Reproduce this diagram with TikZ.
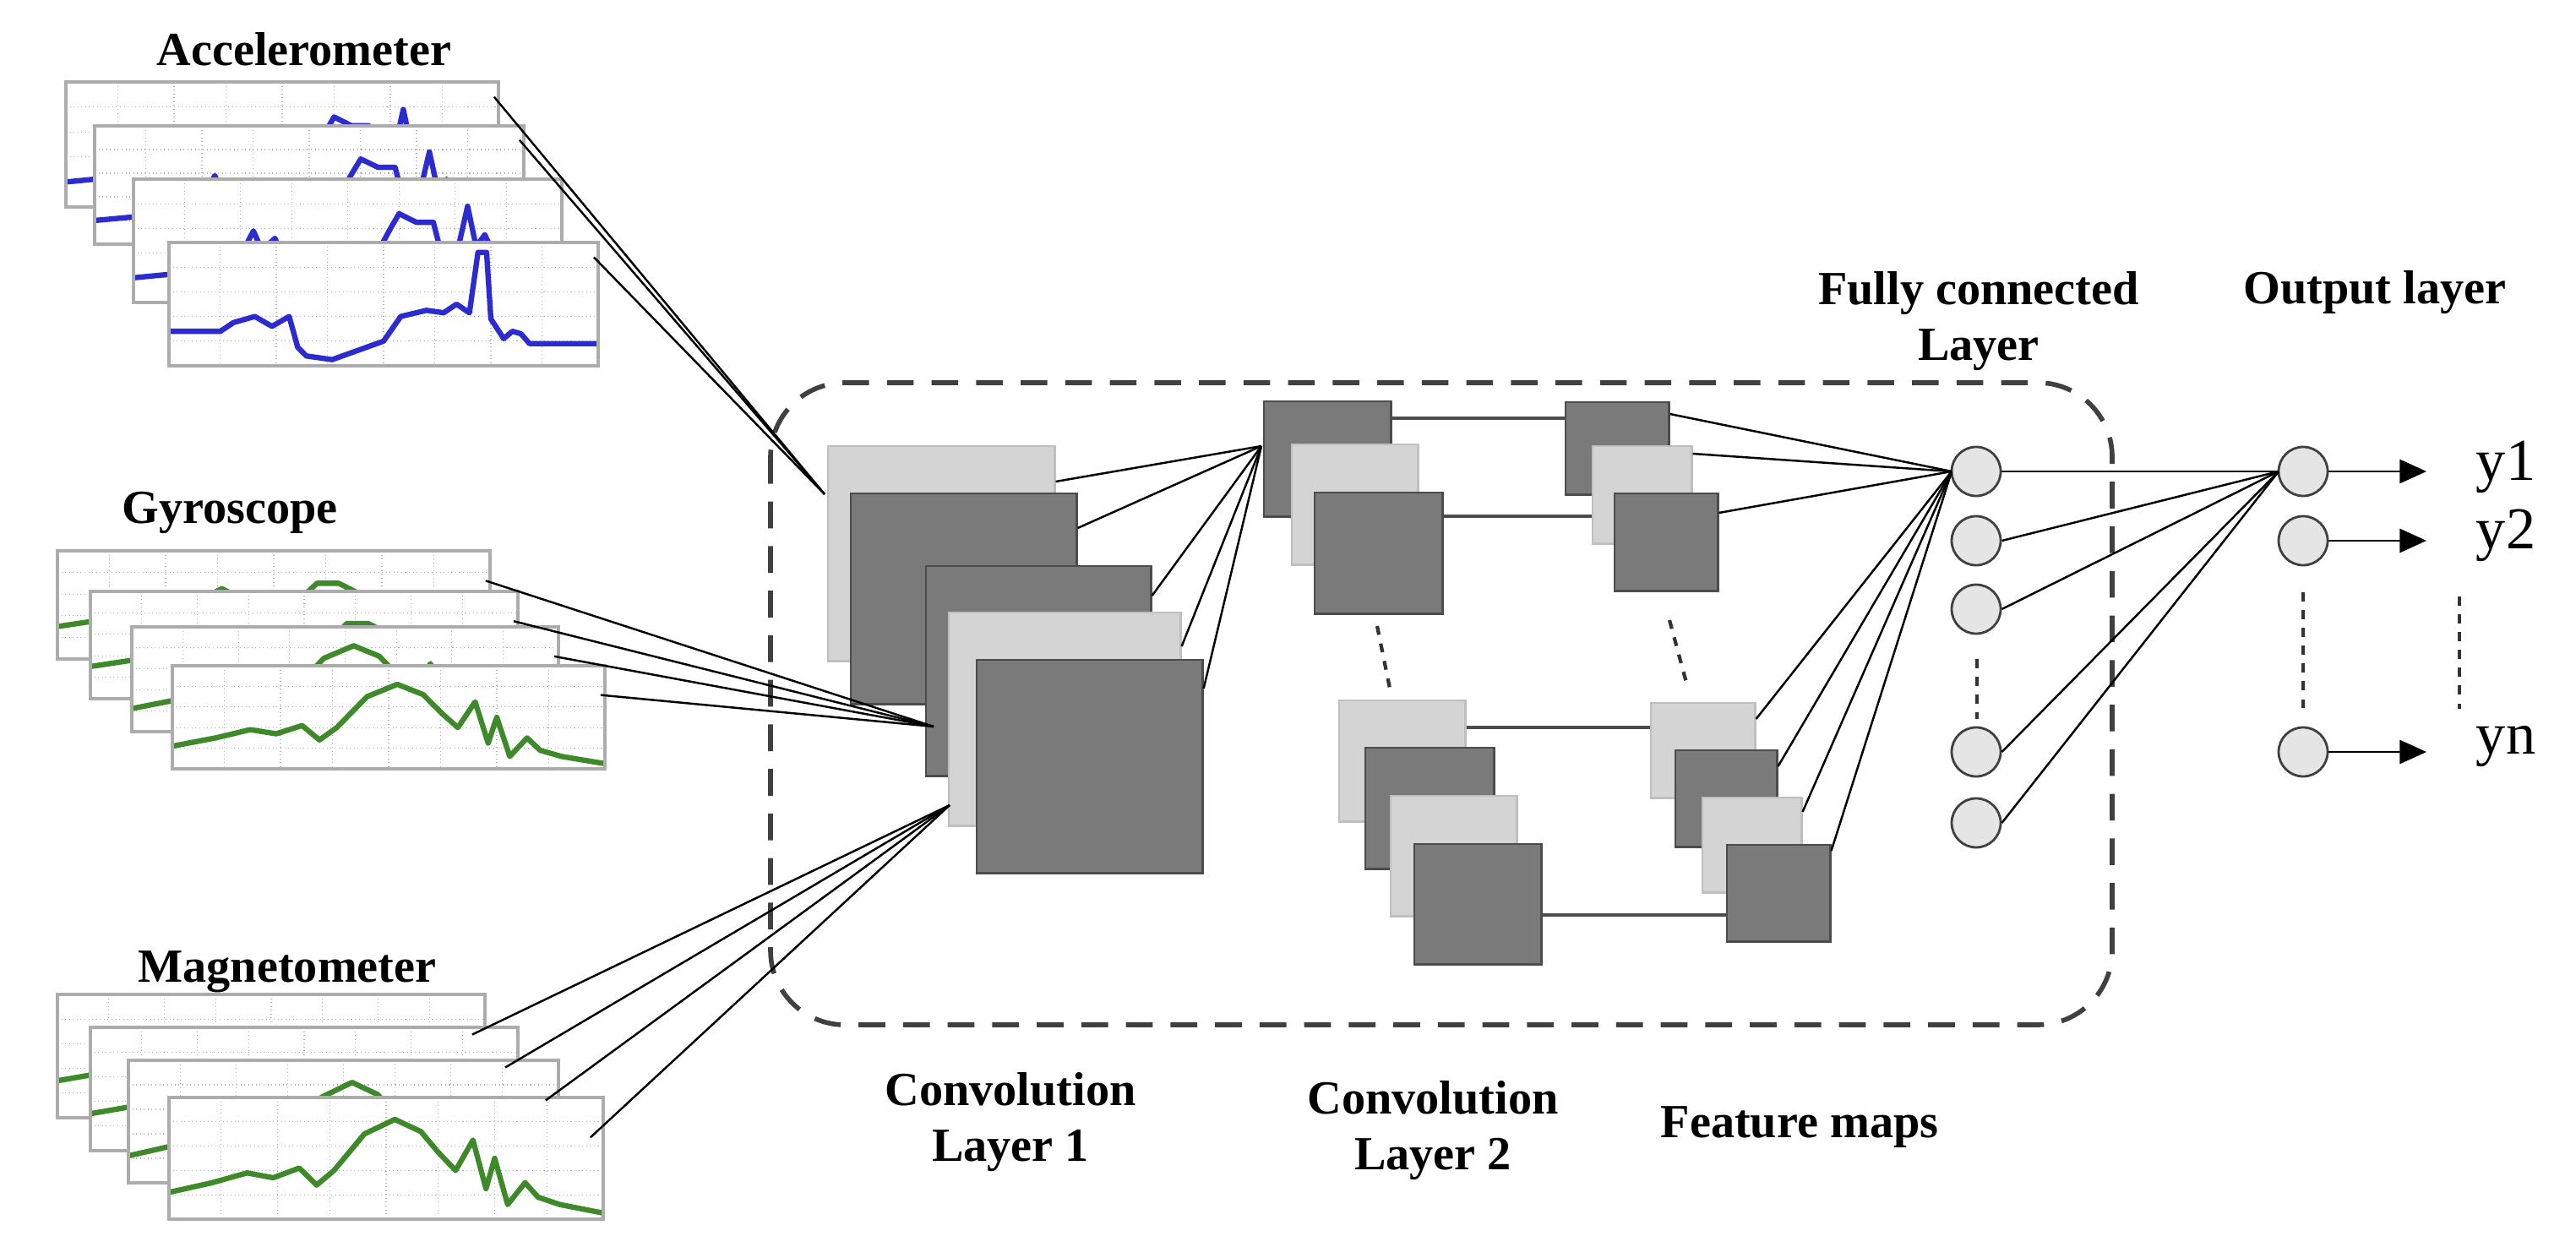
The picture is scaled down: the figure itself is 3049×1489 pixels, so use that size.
\documentclass[tikz,border=0pt]{standalone}
\usepackage{fontspec}
\setmainfont{Liberation Serif}
\usetikzlibrary{calc,arrows.meta}
\definecolor{dmap}{HTML}{7A7A7A}
\definecolor{lmap}{HTML}{D4D4D4}
\definecolor{accb}{HTML}{2B2BD0}
\definecolor{gyrg}{HTML}{3E8A2A}
\newcommand\sigpanel[7]{%
 \begin{scope}[shift={(#1,#2)},x=#3*0.01cm,y=-#4*0.01cm]
  \fill[white] (0,0) rectangle (1,1);
  \foreach \gx in {0.12,0.25,0.37,0.5,0.62,0.75,0.87}
    \draw[gray!60,line width=0.3pt,densely dotted] (\gx,0) -- (\gx,1);
  \foreach \gy in {0.2,0.4,0.6,0.8}
    \draw[gray!60,line width=0.3pt,densely dotted] (0,\gy) -- (1,\gy);
  \begin{scope}
   \clip (0,0) rectangle (1,1);
   \draw[#5,line width=1.8pt,line join=round] plot coordinates {#6};
  \end{scope}
  \draw[gray!65,line width=1.4pt] (0,0) rectangle (1,1);
  \coordinate (#7) at (0.99,0.12);
 \end{scope}}
\begin{document}
\begin{tikzpicture}[x=0.01cm,y=-0.01cm,
  lbl/.style={font=\bfseries\fontsize{16}{19}\selectfont,align=center,inner sep=0},
  ylbl/.style={font=\fontsize{20}{24}\selectfont,inner sep=0},
  dm/.style={draw=black!70,fill=dmap,line width=0.7pt,anchor=north west,inner sep=0},
  lm/.style={draw=black!25,fill=lmap,line width=0.7pt,anchor=north west,inner sep=0},
  neu/.style={circle,draw=black!75,fill=black!10,line width=0.8pt,minimum size=0.58cm,inner sep=0},
  wire/.style={black,line width=0.7pt},
  hwire/.style={black!70,line width=1pt},
  dots/.style={black!80,line width=1.2pt,dash pattern=on 3pt off 3pt}]
\useasboundingbox (0,0) rectangle (3049,1489);

% ---- labels
\node[lbl] (tacc) at (360,58) {Accelerometer};
\node[lbl] (tgyr) at (272,607) {Gyroscope};
\node[lbl] (tmag) at (340,1150) {Magnetometer};
\node[lbl] (tc1) at (1196,1328) {Convolution\\Layer 1};
\node[lbl] (tc2) at (1696,1338) {Convolution\\Layer 2};
\node[lbl] (tfm) at (2130,1334) {Feature maps};
\node[lbl] (tfc) at (2342,380) {Fully connected\\Layer};
\node[lbl] (tout) at (2811,346) {Output layer};

% ---- accelerometer panels
\def\accA{(0,.8)(.15,.75)(.2,.68)(.25,.62)(.28,.42)(.3,.58)(.33,.48)(.36,.7)(.55,.72)(.6,.4)(.62,.28)(.66,.35)(.7,.35)(.72,.62)(.75,.68)(.78,.22)(.8,.55)(.82,.45)(.84,.6)(.87,.66)(1,.66)}
\def\accB{(0,.72)(.12,.72)(.15,.65)(.2,.6)(.24,.68)(.28,.6)(.3,.85)(.32,.92)(.38,.95)(.5,.8)(.54,.6)(.6,.55)(.64,.57)(.67,.5)(.7,.57)(.72,.08)(.74,.08)(.75,.62)(.78,.78)(.8,.72)(.82,.74)(.84,.82)(1,.82)}
\def\gyrA{(0,.7)(.1,.64)(.2,.6)(.27,.58)(.33,.45)(.38,.35)(.43,.45)(.47,.6)(.52,.58)(.56,.45)(.6,.3)(.65,.3)(.7,.4)(.72,.7)(.74,.55)(.76,.88)(.79,.62)(.82,.75)(.86,.88)(.9,.92)(1,.95)}
\def\gyrB{(0,.78)(.1,.7)(.18,.62)(.24,.66)(.3,.58)(.34,.72)(.38,.6)(.45,.3)(.52,.18)(.58,.28)(.62,.45)(.66,.6)(.7,.35)(.73,.75)(.75,.5)(.78,.88)(.82,.7)(.85,.82)(.9,.88)(1,.95)}
\sigpanel{78}{97}{512}{148}{accb}{\accA}{sa1}
\sigpanel{112}{149}{508}{140}{accb}{\accA}{sa2}
\sigpanel{158}{212}{507}{146}{accb}{\accA}{sa3}
\sigpanel{200}{287}{508}{146}{accb}{\accB}{sa4}
% ---- gyroscope panels
\sigpanel{68}{652}{512}{128}{gyrg}{\gyrA}{sg1}
\sigpanel{107}{700}{506}{127}{gyrg}{\gyrA}{sg2}
\sigpanel{156}{742}{505}{124}{gyrg}{\gyrB}{sg3}
\sigpanel{204}{788}{512}{122}{gyrg}{\gyrB}{sg4}
% ---- magnetometer panels
\sigpanel{68}{1177}{506}{146}{gyrg}{\gyrA}{sm1}
\sigpanel{107}{1216}{506}{146}{gyrg}{\gyrA}{sm2}
\sigpanel{152}{1255}{509}{145}{gyrg}{\gyrB}{sm3}
\sigpanel{200}{1299}{514}{144}{gyrg}{\gyrB}{sm4}

% ---- dashed box
\draw[black!75,line width=1.6pt,dash pattern=on 9pt off 6pt,rounded corners=25pt] (912,453) rectangle (2500,1213);

% ---- convolution layer 1
\node[lm,minimum width=2.68cm,minimum height=2.54cm] (c1a) at (979,527) {};
\node[dm,minimum width=2.67cm,minimum height=2.49cm] (c1b) at (1006,583) {};
\node[dm,minimum width=2.66cm,minimum height=2.48cm] (c1c) at (1095,669) {};
\node[lm,minimum width=2.74cm,minimum height=2.52cm] (c1d) at (1122,724) {};
\node[dm,minimum width=2.67cm,minimum height=2.52cm] (c1e) at (1155,780) {};

% ---- convolution layer 2
\node[dm,minimum width=1.50cm,minimum height=1.36cm] (c2a) at (1495,474) {};
\node[lm,minimum width=1.49cm,minimum height=1.42cm] (c2b) at (1528,525) {};
\node[dm,minimum width=1.51cm,minimum height=1.43cm] (c2c) at (1555,582) {};
\node[lm,minimum width=1.49cm,minimum height=1.43cm] (c2d) at (1584,828) {};
\node[dm,minimum width=1.52cm,minimum height=1.43cm] (c2e) at (1615,884) {};
\node[lm,minimum width=1.49cm,minimum height=1.42cm] (c2f) at (1645,941) {};
\node[dm,minimum width=1.50cm,minimum height=1.42cm] (c2g) at (1673,998) {};

% ---- feature maps
\node[dm,minimum width=1.22cm,minimum height=1.09cm] (f1) at (1852,475) {};
\node[lm,minimum width=1.17cm,minimum height=1.15cm] (f2) at (1884,527) {};
\node[dm,minimum width=1.22cm,minimum height=1.15cm] (f3) at (1910,583) {};
\node[lm,minimum width=1.23cm,minimum height=1.12cm] (f4) at (1953,831) {};
\node[dm,minimum width=1.20cm,minimum height=1.14cm] (f5) at (1982,887) {};
\node[lm,minimum width=1.17cm,minimum height=1.12cm] (f6) at (2014,943) {};
\node[dm,minimum width=1.22cm,minimum height=1.14cm] (f7) at (2043,999) {};

% ---- neurons
\node[neu] (n1) at (2339,558) {};
\node[neu] (n2) at (2339,640) {};
\node[neu] (n3) at (2339,721) {};
\node[neu] (n4) at (2339,890) {};
\node[neu] (n5) at (2339,974) {};
\node[neu] (o1) at (2726,558) {};
\node[neu] (o2) at (2726,640) {};
\node[neu] (o3) at (2726,890) {};
\node[ylbl] (y1) at (2966,553) {y1};
\node[ylbl] (y2) at (2966,634) {y2};
\node[ylbl] (yn) at (2966,884) {yn};

% ---- convergence points
\coordinate (pa) at (976,585);
\coordinate (pg) at (1105,860);
\coordinate (pm) at (1124,953);
\coordinate (pc) at (1493,528);
\coordinate (pf) at (2310,558);
\coordinate (po) at (2697,558);

% ---- sensor wires
\foreach \s in {sa1,sa2,sa4} \draw[wire] (\s) -- (pa);
\foreach \s in {sg1,sg2,sg3,sg4} \draw[wire] ($(\s)+(0,20)$) -- (pg);
\foreach \s in {sm1,sm2,sm3,sm4} \draw[wire] ($(\s)+(-10,30)$) -- (pm);

% ---- conv1 -> conv2
\draw[wire] ($(c1a.north east)+(0,43)$) -- (pc);
\draw[wire] ($(c1b.north east)+(0,42)$) -- (pc);
\draw[wire] ($(c1c.north east)+(0,36)$) -- (pc);
\draw[wire] ($(c1d.north east)+(0,41)$) -- (pc);
\draw[wire] ($(c1e.north east)+(0,35)$) -- (pc);

% ---- conv2 -> feature maps
\draw[hwire] ($(c2a.north east)+(0,21)$) coordinate (h1) -- (h1 -| f1.west);
\draw[hwire] ($(c2c.north east)+(0,29)$) coordinate (h2) -- (h2 -| f2.west);
\draw[hwire] ($(c2d.north east)+(0,33)$) coordinate (h3) -- (h3 -| f4.west);
\draw[hwire] ($(c2g.north east)+(0,85)$) coordinate (h4) -- (h4 -| f7.west);
\draw[dots] (1630,741) -- (1645,815);
\draw[dots] (1976,734) -- (1996,808);

% ---- feature maps -> FC
\draw[wire] ($(f1.north east)+(0,15)$) -- (pf);
\draw[wire] ($(f2.north east)+(0,10)$) -- (pf);
\draw[wire] ($(f3.north east)+(0,24)$) -- (pf);
\draw[wire] ($(f4.north east)+(0,20)$) -- (pf);
\draw[wire] ($(f5.north east)+(0,20)$) -- (pf);
\draw[wire] ($(f6.north east)+(0,18)$) -- (pf);
\draw[wire] ($(f7.north east)+(0,8)$) -- (pf);
\draw[wire] (pf) -- (n1.west);
\draw[dots] (2340,780) -- (2340,851);

% ---- FC -> output
\draw[wire] (n1.east) -- (o1.west);
\foreach \n in {n2,n3,n4,n5} \draw[wire] (\n.east) -- (po);
\draw[dots] (2726,701) -- (2726,841);
\draw[dots] (2911,706) -- (2911,839);
\draw[wire,-{Triangle[length=9pt,width=8pt]}] (o1.east) -- (2872,558);
\draw[wire,-{Triangle[length=9pt,width=8pt]}] (o2.east) -- (2872,640);
\draw[wire,-{Triangle[length=9pt,width=8pt]}] (o3.east) -- (2872,890);
\end{tikzpicture}
\end{document}
